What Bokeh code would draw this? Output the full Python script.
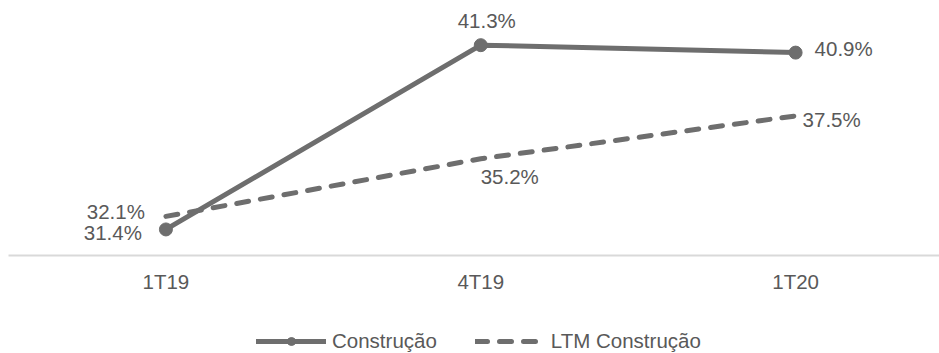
from bokeh.plotting import figure
from bokeh.layouts import column
from bokeh.models import ColumnDataSource, FixedTicker, Legend, LegendItem, Range1d
from bokeh.core.properties import value
from bokeh.embed import file_html
from bokeh.resources import INLINE

# Quarterly margins, construction segment
periods = ["1T19", "4T19", "1T20"]
construcao = [31.4, 41.3, 40.9]
ltm_construcao = [32.1, 35.2, 37.5]

LINE = "#6e6e6e"
TEXT = "#595959"
FONT = "Liberation Sans"
FS = "20.5px"

xs = list(range(len(periods)))

src_c = ColumnDataSource(dict(x=xs, y=construcao, lab=[f"{v:.1f}%" for v in construcao]))
src_l = ColumnDataSource(dict(x=xs, y=ltm_construcao, lab=[f"{v:.1f}%" for v in ltm_construcao]))

p = figure(width=939, height=300, output_backend="svg", toolbar_location=None,
           x_range=Range1d(-0.5, 2.457), y_range=Range1d(30, 43.7),
           min_border_left=8, min_border_right=0, min_border_top=0,
           min_border_bottom=45)
p.outline_line_color = None
p.background_fill_color = "white"
p.border_fill_color = "white"
p.xgrid.visible = False
p.ygrid.visible = False
p.yaxis.visible = False

ax = p.xaxis[0]
ax.ticker = FixedTicker(ticks=xs)
ax.major_label_overrides = {i: lab for i, lab in enumerate(periods)}
ax.axis_line_color = "#d9d9d9"
ax.axis_line_width = 2
ax.major_tick_line_color = None
ax.minor_tick_line_color = None
ax.major_tick_out = 0
ax.major_tick_in = 0
ax.major_label_text_font = FONT
ax.major_label_text_font_size = FS
ax.major_label_text_color = TEXT
ax.major_label_standoff = 14


def draw_series(fig):
    ltm = fig.line("x", "y", source=src_l, line_color=LINE, line_width=5,
                   line_dash="12 12", line_cap="round")
    ln = fig.line("x", "y", source=src_c, line_color=LINE, line_width=5, line_cap="round")
    pts = fig.scatter("x", "y", source=src_c, size=13, fill_color=LINE, line_color=LINE)
    return ln, pts, ltm


draw_series(p)

# value labels, each placed around its own point
def label(src, i, dx, dy, align):
    p.text(x=[src.data["x"][i]], y=[src.data["y"][i]], text=[src.data["lab"][i]],
           x_offset=dx, y_offset=dy, text_align=align, text_baseline="middle",
           text_font=value(FONT), text_font_size=FS, text_color=TEXT)

label(src_c, 0, -24, 3, "right")
label(src_c, 1, 6, -25, "center")
label(src_c, 2, 19, -4, "left")
label(src_l, 0, -21, -5, "right")
label(src_l, 1, 29, 18, "center")
label(src_l, 2, 7, 4, "left")

# legend strip: same series, kept outside its visible range so only the legend shows
leg_fig = figure(width=939, height=53, output_backend="svg", toolbar_location=None,
                 x_range=Range1d(100, 101), y_range=Range1d(100, 101),
                 x_axis_type=None, y_axis_type=None,
                 min_border_left=0, min_border_right=0, min_border_top=0,
                 min_border_bottom=0)
leg_fig.outline_line_color = None
leg_fig.xgrid.visible = False
leg_fig.ygrid.visible = False
l_line, l_pts, l_ltm = draw_series(leg_fig)

legend = Legend(items=[LegendItem(label="Construção", renderers=[l_line, l_pts]),
                       LegendItem(label="LTM Construção", renderers=[l_ltm])],
                orientation="horizontal", location=(248, 0),
                glyph_width=70, glyph_height=20, label_standoff=6, spacing=38,
                padding=0, margin=0, border_line_color=None,
                background_fill_alpha=0,
                label_text_font=FONT, label_text_font_size=FS, label_text_color=TEXT)
leg_fig.add_layout(legend, "center")

layout = column(p, leg_fig, spacing=0)
open("out.html", "w").write(file_html(layout, INLINE))
